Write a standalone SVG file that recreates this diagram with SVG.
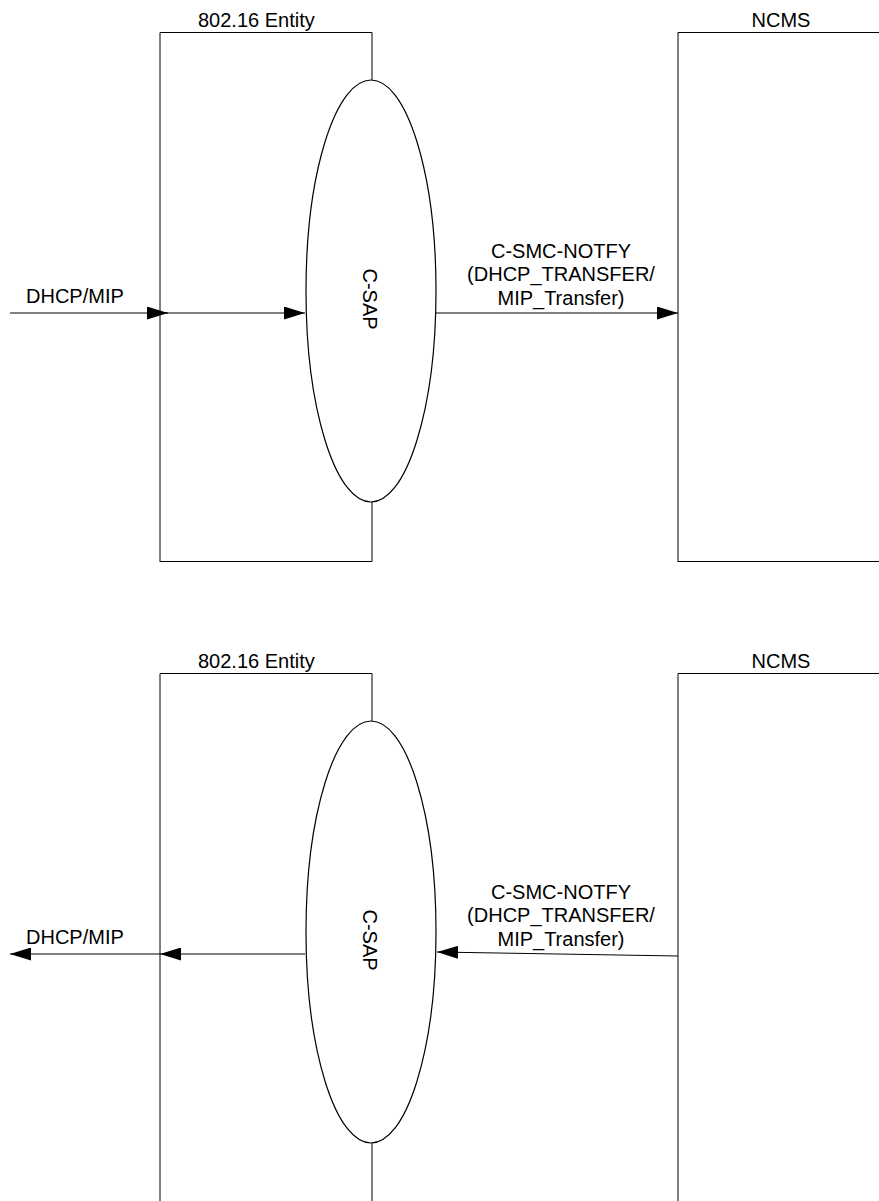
<svg xmlns="http://www.w3.org/2000/svg" width="879" height="1201" viewBox="0 0 879 1201">
<style>
.box{fill:none;stroke:#000;stroke-width:1}
.sap{fill:#fff;stroke:#000;stroke-width:1.2}
.lbl{font-family:"Liberation Sans",Arial,sans-serif;font-size:20px;fill:#000}
.ln{fill:none;stroke:#000;stroke-width:1}
</style>
<defs>
<marker id="ah" viewBox="0 0 21 13" refX="21" refY="6.5" markerWidth="21" markerHeight="13" markerUnits="userSpaceOnUse" orient="auto">
<path d="M0,0 L21,6.5 L0,13 Z" fill="#000"/>
</marker>
</defs>
<rect width="879" height="1201" fill="#fff"/>

<!-- top diagram -->
<g id="entity-top">
<path class="box" d="M160,562 V32.5 H372 V80"/>
<path class="box" d="M372,502 V561.5 H160"/>
<text class="lbl" x="198" y="27" font-size="19">802.16 Entity</text>
</g>
<g id="csap-top">
<ellipse class="sap" cx="371" cy="291" rx="65" ry="211"/>
<text class="lbl" transform="translate(363,299) rotate(90)" text-anchor="middle">C-SAP</text>
</g>
<g id="ncms-top">
<path class="box" d="M678,562 V32.5 H879"/>
<path class="box" d="M678,561.5 H879"/>
<text class="lbl" x="781" y="27" text-anchor="middle">NCMS</text>
</g>

<!-- bottom diagram -->
<g id="entity-bottom">
<path class="box" d="M160,1201 V673.5 H372 V721"/>
<path class="box" d="M372,1143 V1201"/>
<text class="lbl" x="198" y="668" font-size="19">802.16 Entity</text>
</g>
<g id="csap-bottom">
<ellipse class="sap" cx="371" cy="932" rx="65" ry="211"/>
<text class="lbl" transform="translate(363,940) rotate(90)" text-anchor="middle">C-SAP</text>
</g>
<g id="ncms-bottom">
<path class="box" d="M678,1201 V673.5 H879"/>
<text class="lbl" x="781" y="668" text-anchor="middle">NCMS</text>
</g>

<g id="connectors">
<line class="ln" x1="10" y1="313" x2="168" y2="313" marker-end="url(#ah)"/>
<line class="ln" x1="160" y1="313" x2="305" y2="313" marker-end="url(#ah)"/>
<line class="ln" x1="436" y1="313" x2="678" y2="313" marker-end="url(#ah)"/>
<line class="ln" x1="678" y1="956" x2="437" y2="952" marker-end="url(#ah)"/>
<line class="ln" x1="305" y1="954" x2="160" y2="954" marker-end="url(#ah)"/>
<line class="ln" x1="160" y1="954" x2="10" y2="954" marker-end="url(#ah)"/>
</g>

<g id="labels">
<text class="lbl" x="26" y="303">DHCP/MIP</text>
<text class="lbl" x="561" y="258" text-anchor="middle">C-SMC-NOTFY</text>
<text class="lbl" x="561" y="281" text-anchor="middle">(DHCP_TRANSFER/</text>
<text class="lbl" x="561" y="305" text-anchor="middle">MIP_Transfer)</text>
<text class="lbl" x="26" y="944">DHCP/MIP</text>
<text class="lbl" x="561" y="899" text-anchor="middle">C-SMC-NOTFY</text>
<text class="lbl" x="561" y="922" text-anchor="middle">(DHCP_TRANSFER/</text>
<text class="lbl" x="561" y="946" text-anchor="middle">MIP_Transfer)</text>
</g>
</svg>
